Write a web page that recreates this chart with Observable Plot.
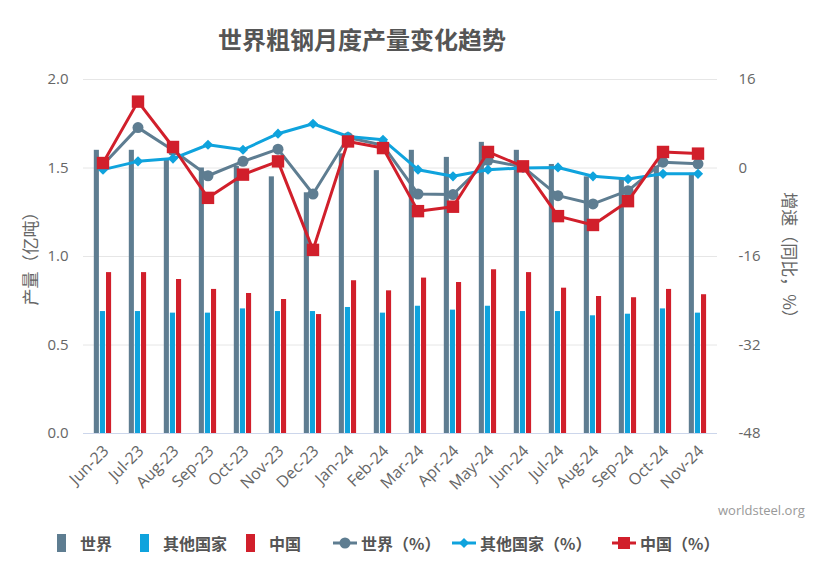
<!DOCTYPE html>
<html><head><meta charset="utf-8">
<script src="https://cdn.jsdelivr.net/npm/d3@7"></script>
<script src="https://cdn.jsdelivr.net/npm/@observablehq/plot@0.6"></script>
<style>
body{margin:0;background:#fff;}
#wrap{position:relative;width:820px;height:569px;overflow:hidden;font-family:"Noto Sans CJK SC",sans-serif;}
#chart{position:absolute;left:0;top:0;}
#title{position:absolute;left:0;width:724px;top:27px;line-height:24px;text-align:center;font-size:24px;font-weight:bold;color:#555;}
.ylab{position:absolute;font-size:17px;color:#666;white-space:nowrap;line-height:17px;}
#src{position:absolute;left:718px;top:501px;font-family:"Open Sans",sans-serif;font-size:13px;color:#999;}
#legend{position:absolute;left:0;top:531px;width:820px;height:24px;}
.li{position:absolute;top:0;height:24px;display:flex;align-items:center;font-size:16px;font-weight:bold;color:#555;white-space:nowrap;}
.li svg{margin-right:4px;}
</style></head>
<body><div id="wrap">
<div id="chart"></div>
<div id="title">世界粗钢月度产量变化趋势</div>
<div class="ylab" id="yl">产量（亿吨）</div>
<div class="ylab" id="yr">增速（同比，%）</div>
<div id="src">worldsteel.org</div>
<div id="legend"></div>
</div>
<script>
const months = ["Jun-23","Jul-23","Aug-23","Sep-23","Oct-23","Nov-23","Dec-23","Jan-24","Feb-24","Mar-24","Apr-24","May-24","Jun-24","Jul-24","Aug-24","Sep-24","Oct-24","Nov-24"];
// production (100 million tonnes)
const world = [1.60,1.60,1.55,1.50,1.51,1.45,1.36,1.58,1.485,1.60,1.56,1.645,1.60,1.52,1.45,1.44,1.51,1.47];
const other = [0.689,0.689,0.680,0.680,0.704,0.689,0.689,0.712,0.680,0.719,0.697,0.719,0.689,0.689,0.665,0.674,0.704,0.680];
const china = [0.909,0.909,0.870,0.814,0.791,0.757,0.672,0.863,0.806,0.878,0.853,0.925,0.909,0.821,0.774,0.767,0.814,0.784];
// year-on-year growth (%)
const worldPct = [0.6,7.3,3.2,-1.4,1.2,3.4,-4.7,5.5,4.1,-4.7,-4.8,1.4,0.2,-5.0,-6.5,-4.1,1.05,0.76];
const otherPct = [-0.3,1.2,1.7,4.2,3.3,6.2,8.0,5.7,5.1,-0.3,-1.5,-0.3,0.0,0.1,-1.5,-2.0,-1.05,-1.05];
const chinaPct = [0.9,12.0,3.8,-5.4,-1.2,1.2,-14.8,4.8,3.6,-7.8,-7.0,2.9,0.3,-8.7,-10.3,-6.0,2.9,2.6];
const leftTicks = [0,0.5,1,1.5,2];
const rightTicks = [-48,-32,-16,0,16];
const seriesNames = ["世界","其他国家","中国","世界（%）","其他国家（%）","中国（%）"];

const C_WORLD = "#5E7D91", C_OTHER = "#0FA3DD", C_CHINA = "#D11F2B";
// right axis [-48,16] mapped onto left [0,2]
const toL = v => (v + 48) / 32;

const data = months.map((m, i) => ({
  m, world: world[i], other: other[i], china: china[i],
  wp: toL(worldPct[i]), op: toL(otherPct[i]), cp: toL(chinaPct[i])
}));

const chart = Plot.plot({
  width: 820, height: 569,
  marginTop: 79, marginBottom: 136, marginLeft: 83, marginRight: 103,
  style: {fontFamily: "Open Sans, sans-serif", fontSize: "15px", color: "#666", background: "transparent"},
  x: {type: "band", domain: months, padding: 0},
  y: {domain: [0, 2]},
  marks: [
    Plot.gridY(leftTicks.filter(d => d > 0), {stroke: "#e6e6e6", strokeOpacity: 1}),
    Plot.barY(data, {x: "m", y: "world", fill: C_WORLD, insetLeft: 8.8, insetRight: 21.1}),
    Plot.barY(data, {x: "m", y: "other", fill: C_OTHER, insetLeft: 14.9, insetRight: 15.0}),
    Plot.barY(data, {x: "m", y: "china", fill: C_CHINA, insetLeft: 21.0, insetRight: 8.9}),
    Plot.ruleY([0], {stroke: "#ccd6eb", strokeWidth: 1}),
    Plot.axisY({anchor: "left", ticks: leftTicks, tickFormat: d3.format(".1f"), tickSize: 0, tickPadding: 15, label: null}),
    Plot.axisY({anchor: "right", ticks: rightTicks.map(toL), tickFormat: d => String(Math.round(d * 32 - 48)), tickSize: 0, tickPadding: 21, label: null}),
    Plot.axisX({tickRotate: -45, tickSize: 0, tickPadding: 15, fontSize: 16, dx: 3, label: null}),
    Plot.line(data, {x: "m", y: "wp", stroke: C_WORLD, strokeWidth: 3}),
    Plot.dot(data, {x: "m", y: "wp", r: 5.5, fill: C_WORLD, stroke: "none", symbol: "circle"}),
    Plot.line(data, {x: "m", y: "op", stroke: C_OTHER, strokeWidth: 3}),
    Plot.dot(data, {x: "m", y: "op", r: 4.6, fill: C_OTHER, stroke: "none", symbol: "diamond2"}),
    Plot.line(data, {x: "m", y: "cp", stroke: C_CHINA, strokeWidth: 3}),
    Plot.dot(data, {x: "m", y: "cp", r: 7, fill: C_CHINA, stroke: "none", symbol: "square"})
  ]
});
document.getElementById("chart").appendChild(chart);

// axis titles
const yl = document.getElementById("yl");
yl.style.left = (29 - 51) + "px"; yl.style.top = (254 - 8.5) + "px"; yl.style.width = "102px"; yl.style.textAlign = "center";
yl.style.transform = "rotate(-90deg)";
const yr = document.getElementById("yr");
yr.style.left = (790 - 68) + "px"; yr.style.top = (259 - 8.5) + "px"; yr.style.width = "136px"; yr.style.textAlign = "center";
yr.style.transform = "rotate(90deg)";

// legend
const legendX = [57, 140, 246, 333, 452, 612];
const kinds = [["bar", C_WORLD], ["bar", C_OTHER], ["bar", C_CHINA], ["circle", C_WORLD], ["diamond", C_OTHER], ["square", C_CHINA]];
const lg = document.getElementById("legend");
seriesNames.forEach((name, i) => {
  const [k, c] = kinds[i];
  const div = document.createElement("div");
  div.className = "li";
  div.style.left = legendX[i] + "px";
  let icon;
  if (k === "bar") icon = `<svg width="9" height="18"><rect x="0" y="0" width="9" height="18" fill="${c}"/></svg>`;
  else {
    let m = "";
    if (k === "circle") m = `<circle cx="12" cy="9" r="5.5" fill="${c}"/>`;
    if (k === "diamond") m = `<path d="M12,4 L17,9 L12,14 L7,9Z" fill="${c}"/>`;
    if (k === "square") m = `<rect x="6" y="3" width="12" height="12" fill="${c}"/>`;
    icon = `<svg width="24" height="18"><line x1="0" y1="9" x2="24" y2="9" stroke="${c}" stroke-width="3"/>${m}</svg>`;
  }
  div.innerHTML = icon + `<span>${name}</span>`;
  if (k === "bar") div.querySelector("svg").style.marginRight = "14px";
  lg.appendChild(div);
});
</script>
</body></html>
